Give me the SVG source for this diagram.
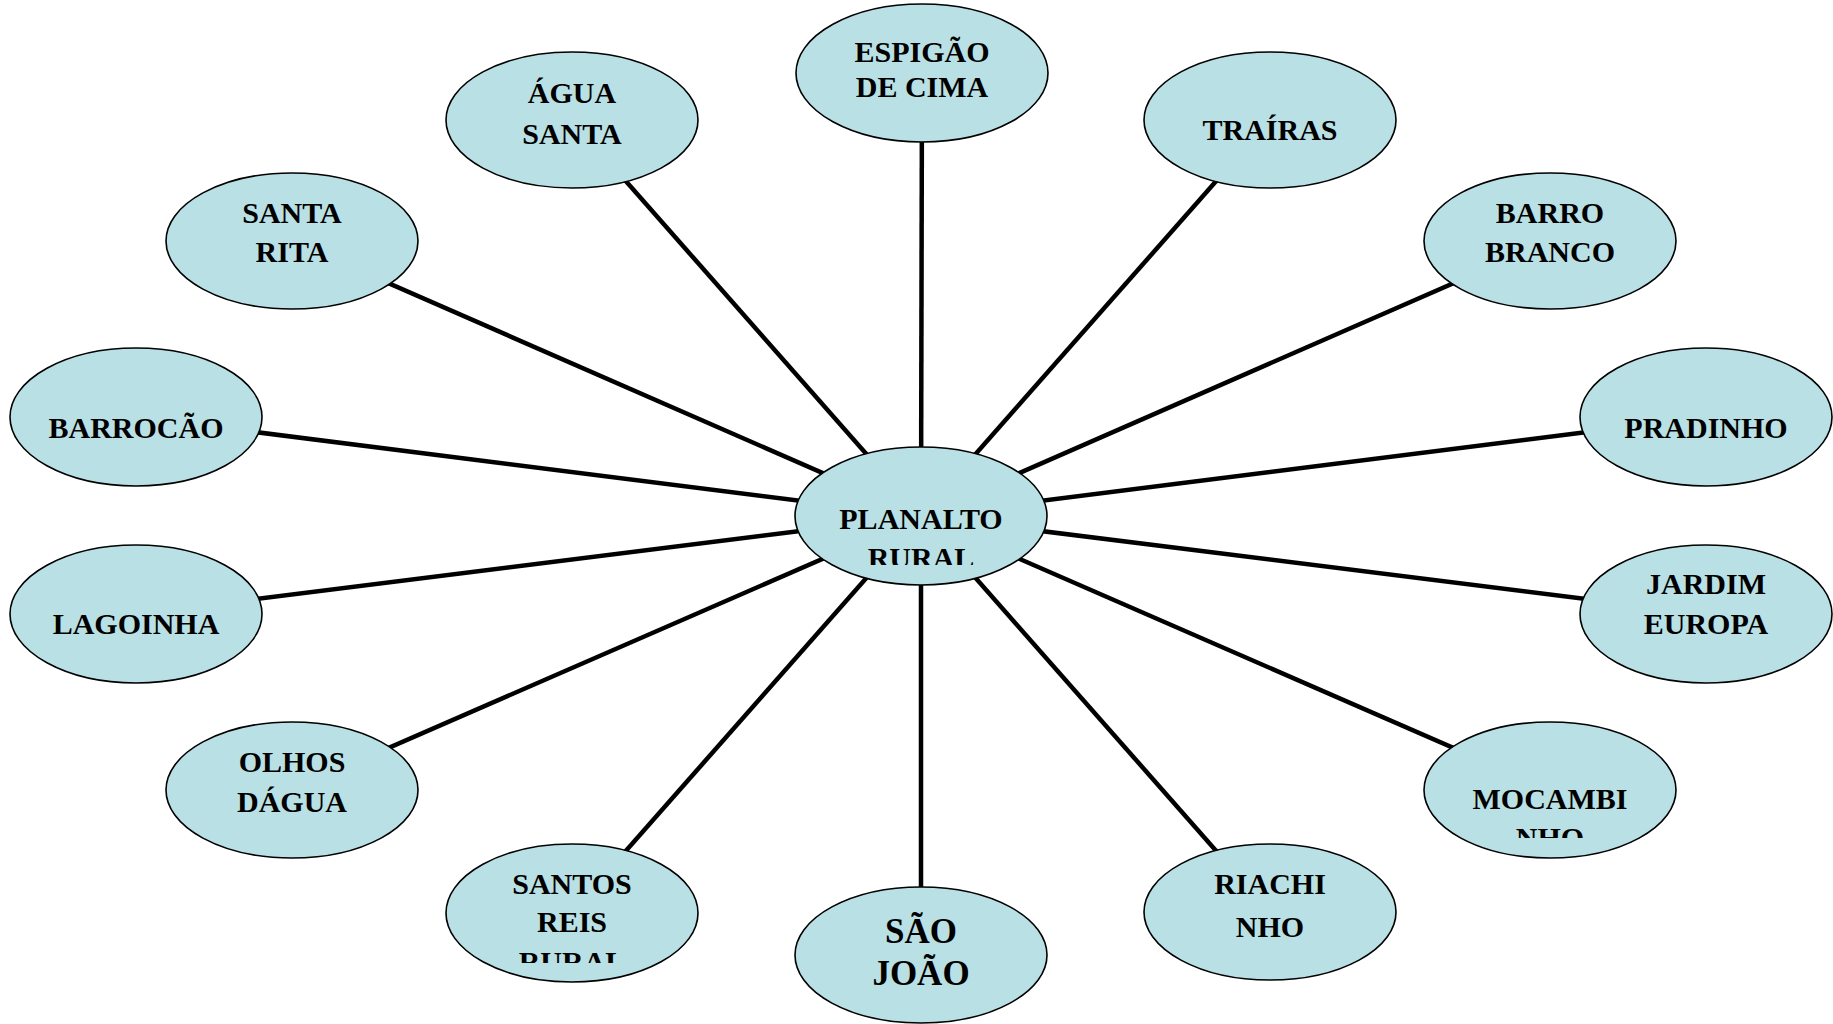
<svg xmlns="http://www.w3.org/2000/svg" width="1833" height="1024" viewBox="0 0 1833 1024">
<style>
.n{fill:#B9E0E4;stroke:#000;stroke-width:1.6}
.t{font-family:"Liberation Serif","Times New Roman",serif;font-weight:bold;font-size:30px;fill:#000;text-anchor:middle}
.big{font-size:35px}
.c line{stroke:#000;stroke-width:4.5}
</style>
<defs>
<clipPath id="clipC"><rect x="780" y="440" width="280" height="125"/></clipPath>
<clipPath id="clipM"><rect x="1410" y="715" width="280" height="123"/></clipPath>
<clipPath id="clipS"><rect x="430" y="840" width="280" height="123"/></clipPath>
</defs>
<rect width="1833" height="1024" fill="#fff"/>
<g id="connectors" class="c">
<line x1="921" y1="516" x2="922" y2="73"/>
<line x1="921" y1="516" x2="572" y2="120"/>
<line x1="921" y1="516" x2="1270" y2="120"/>
<line x1="921" y1="516" x2="292" y2="241"/>
<line x1="921" y1="516" x2="1550" y2="241"/>
<line x1="921" y1="516" x2="136" y2="417"/>
<line x1="921" y1="516" x2="1706" y2="417"/>
<line x1="921" y1="516" x2="136" y2="614"/>
<line x1="921" y1="516" x2="1706" y2="614"/>
<line x1="921" y1="516" x2="292" y2="790"/>
<line x1="921" y1="516" x2="1550" y2="790"/>
<line x1="921" y1="516" x2="572" y2="912"/>
<line x1="921" y1="516" x2="1270" y2="912"/>
<line x1="921" y1="516" x2="921" y2="955"/>
</g>
<g id="espigao"><ellipse class="n" cx="922" cy="73" rx="126" ry="69"/><text class="t" x="922" y="62">ESPIGÃO</text><text class="t" x="922" y="97">DE CIMA</text></g>
<g id="agua-santa"><ellipse class="n" cx="572" cy="120" rx="126" ry="68"/><text class="t" x="572" y="103">ÁGUA</text><text class="t" x="572" y="144">SANTA</text></g>
<g id="trairas"><ellipse class="n" cx="1270" cy="120" rx="126" ry="68"/><text class="t" x="1270" y="140">TRAÍRAS</text></g>
<g id="santa-rita"><ellipse class="n" cx="292" cy="241" rx="126" ry="68"/><text class="t" x="292" y="223">SANTA</text><text class="t" x="292" y="262">RITA</text></g>
<g id="barro-branco"><ellipse class="n" cx="1550" cy="241" rx="126" ry="68"/><text class="t" x="1550" y="223">BARRO</text><text class="t" x="1550" y="262">BRANCO</text></g>
<g id="barrocao"><ellipse class="n" cx="136" cy="417" rx="126" ry="69"/><text class="t" x="136" y="438">BARROCÃO</text></g>
<g id="pradinho"><ellipse class="n" cx="1706" cy="417" rx="126" ry="69"/><text class="t" x="1706" y="438">PRADINHO</text></g>
<g id="lagoinha"><ellipse class="n" cx="136" cy="614" rx="126" ry="69"/><text class="t" x="136" y="634">LAGOINHA</text></g>
<g id="jardim-europa"><ellipse class="n" cx="1706" cy="614" rx="126" ry="69"/><text class="t" x="1706" y="594">JARDIM</text><text class="t" x="1706" y="634">EUROPA</text></g>
<g id="olhos-dagua"><ellipse class="n" cx="292" cy="790" rx="126" ry="68"/><text class="t" x="292" y="772">OLHOS</text><text class="t" x="292" y="812">DÁGUA</text></g>
<g id="mocambinho"><ellipse class="n" cx="1550" cy="790" rx="126" ry="68"/><g clip-path="url(#clipM)"><text class="t" x="1550" y="809">MOCAMBI</text><text class="t" x="1550" y="848">NHO</text></g></g>
<g id="santos-reis"><ellipse class="n" cx="572" cy="913" rx="126" ry="69"/><g clip-path="url(#clipS)"><text class="t" x="572" y="894">SANTOS</text><text class="t" x="572" y="932">REIS</text><text class="t" x="572" y="972">RURAL</text></g></g>
<g id="riachinho"><ellipse class="n" cx="1270" cy="912" rx="126" ry="68"/><text class="t" x="1270" y="894">RIACHI</text><text class="t" x="1270" y="937">NHO</text></g>
<g id="sao-joao"><ellipse class="n" cx="921" cy="955" rx="126" ry="68"/><text class="t big" x="921" y="943">SÃO</text><text class="t big" x="921" y="985">JOÃO</text></g>
<g id="planalto-rural"><ellipse class="n" cx="921" cy="516" rx="126" ry="69"/><g clip-path="url(#clipC)"><text class="t" x="921" y="529">PLANALTO</text><text class="t" x="921" y="568">RURAL</text></g></g>
</svg>
